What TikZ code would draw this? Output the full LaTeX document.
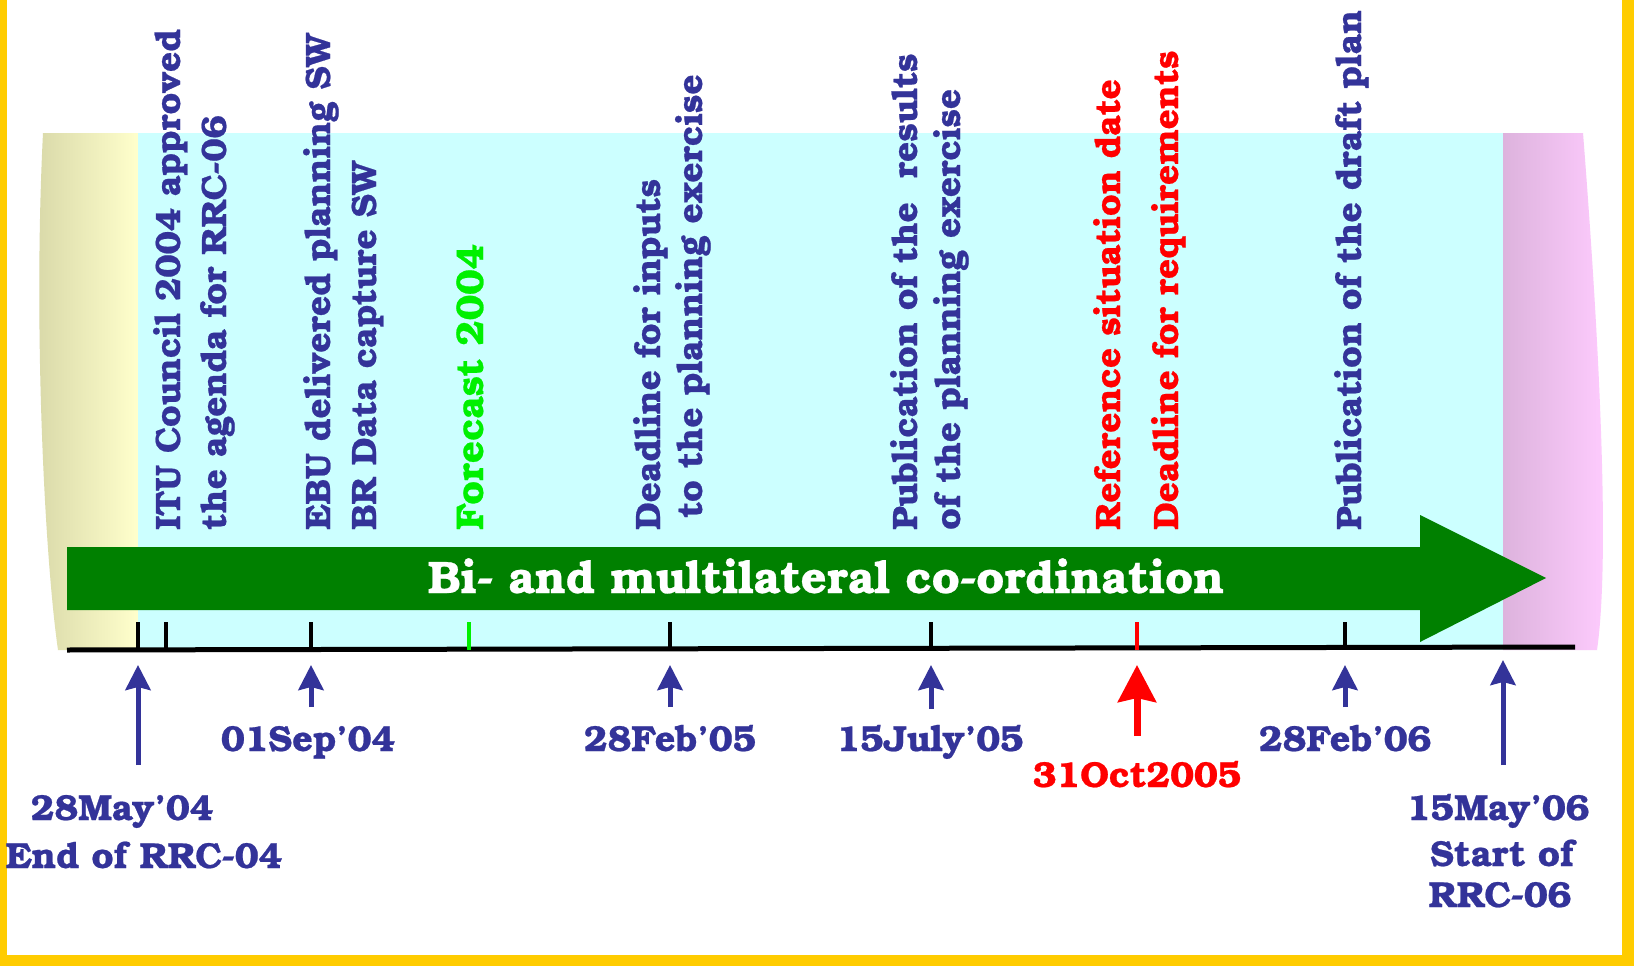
\documentclass[tikz,border=0pt]{standalone}
\usepackage{fontspec}
\setmainfont{TeX Gyre Bonum}[BoldFeatures={FakeBold=0.6}]
\usetikzlibrary{arrows.meta}
\definecolor{navy}{HTML}{333399}
\definecolor{frameyellow}{HTML}{FFCC00}
\definecolor{lightcyan}{HTML}{CCFFFF}
\definecolor{beigeL}{HTML}{D8D8A8}
\definecolor{beigeR}{HTML}{FFFFCC}
\definecolor{pinkL}{HTML}{DDB3DD}
\definecolor{pinkR}{HTML}{FFCCFF}
\definecolor{bargreen}{HTML}{008000}
\definecolor{limegreen}{HTML}{00F000}
\definecolor{brightred}{HTML}{FF0000}
\tikzset{
  vlabel/.style={rotate=90, anchor=base west, inner sep=0pt, font=\fontsize{35.2}{40}\selectfont\bfseries, text=navy},
  hlabel/.style={anchor=base, inner sep=0pt, font=\fontsize{36}{40}\selectfont\bfseries, text=navy},
  tickmark/.style={line width=4pt, black},
  uparrow/.style={line width=5pt, navy, -{Stealth[length=25pt, width=25pt, inset=3pt]}},
  redarrow/.style={line width=7pt, brightred, -{Stealth[length=37pt, width=38pt, inset=4pt]}}
}
\begin{document}
\begin{tikzpicture}[x=1pt,y=-1pt]
\useasboundingbox (0,0) rectangle (1634,966);
\fill[white] (0,0) rectangle (1634,966);
% yellow frame
\fill[frameyellow] (0,0) rectangle (7,966);
\fill[frameyellow] (1622,0) rectangle (1634,966);
\fill[frameyellow] (0,955) rectangle (1634,966);
% background bands
\shade[left color=beigeL, right color=beigeR] (43,133) -- (138,133) -- (138,650) -- (58,650) .. controls (45,560) and (33,330) .. (43,133) -- cycle;
\fill[lightcyan] (138,133) rectangle (1503,650);
\shade[left color=pinkL, right color=pinkR] (1503,133) -- (1583,133) .. controls (1600,350) and (1610,560) .. (1597,650) -- (1503,650) -- cycle;
% timeline
\coordinate (lineL) at (67,650);
\coordinate (lineR) at (1575,647);
\draw[line width=5pt, black] (lineL) -- (lineR);
\foreach \n/\x/\c in {t1/138/black, t2/166/black, t3/311/black, t4/469/limegreen, t5/670/black, t6/931/black, t7/1137/brightred, t8/1345/black}{
  \coordinate (\n top) at (\x,622);
  \coordinate (\n bot) at (\x,650);
  \draw[tickmark, draw=\c] (\n top) -- (\n bot);
}
% green arrow
\fill[bargreen] (67,547) -- (1420,547) -- (1420,515) -- (1546,578) -- (1420,642) -- (1420,610) -- (67,610) -- cycle;
\node[anchor=base, inner sep=0pt, text=white, font=\fontsize{45.4}{50}\selectfont\bfseries] (banner) at (826,593) {Bi- and multilateral co-ordination};
% vertical labels
\node[vlabel] (l1a) at (180,530) {ITU Council 2004 approved};
\node[vlabel] (l1b) at (226,530) {the agenda for RRC-06};
\node[vlabel] (l2a) at (330,530) {EBU delivered planning SW};
\node[vlabel] (l2b) at (376,530) {BR Data capture SW};
\node[vlabel, text=limegreen, font=\fontsize{38.5}{42}\selectfont\bfseries] (l3) at (483,530) {Forecast 2004};
\node[vlabel] (l4a) at (660,530) {Deadline for inputs};
\node[vlabel] (l4b) at (702,518) {to the planning exercise};
\node[vlabel] (l5a) at (917,530) {Publication of the\ \ results};
\node[vlabel] (l5b) at (960,530) {of the planning exercise};
\node[vlabel, text=brightred] (l6a) at (1120,530) {Reference situation date};
\node[vlabel, text=brightred] (l6b) at (1178,530) {Deadline for requirements};
\node[vlabel] (l7) at (1361,530) {Publication of the draft plan};
% arrows below the line
\coordinate (a1tail) at (138,765); \coordinate (a1tip) at (138,665);
\coordinate (a2tail) at (311,707); \coordinate (a2tip) at (311,665);
\coordinate (a3tail) at (670,707); \coordinate (a3tip) at (670,665);
\coordinate (a4tail) at (931,709); \coordinate (a4tip) at (931,665);
\coordinate (a5tail) at (1137,736); \coordinate (a5tip) at (1137,665);
\coordinate (a6tail) at (1345,707); \coordinate (a6tip) at (1345,665);
\coordinate (a7tail) at (1503,765); \coordinate (a7tip) at (1503,660);
\draw[uparrow] (a1tail) -- (a1tip);
\draw[uparrow] (a2tail) -- (a2tip);
\draw[uparrow] (a3tail) -- (a3tip);
\draw[uparrow] (a4tail) -- (a4tip);
\draw[redarrow] (a5tail) -- (a5tip);
\draw[uparrow] (a6tail) -- (a6tip);
\draw[uparrow] (a7tail) -- (a7tip);
% date labels
\node[hlabel] (d1a) at (122,820) {28May’04};
\node[hlabel] (d1b) at (144,868) {End of RRC-04};
\node[hlabel] (d2) at (308,751) {01Sep’04};
\node[hlabel] (d3) at (670,751) {28Feb’05};
\node[hlabel] (d4) at (930,751) {15July’05};
\node[hlabel, text=brightred] (d5) at (1137,787) {31Oct2005};
\node[hlabel] (d6) at (1345,751) {28Feb’06};
\node[hlabel] (d7a) at (1498,820) {15May’06};
\node[hlabel] (d7b) at (1502,866) {Start of};
\node[hlabel] (d7c) at (1500,907) {RRC-06};
\end{tikzpicture}
\end{document}
